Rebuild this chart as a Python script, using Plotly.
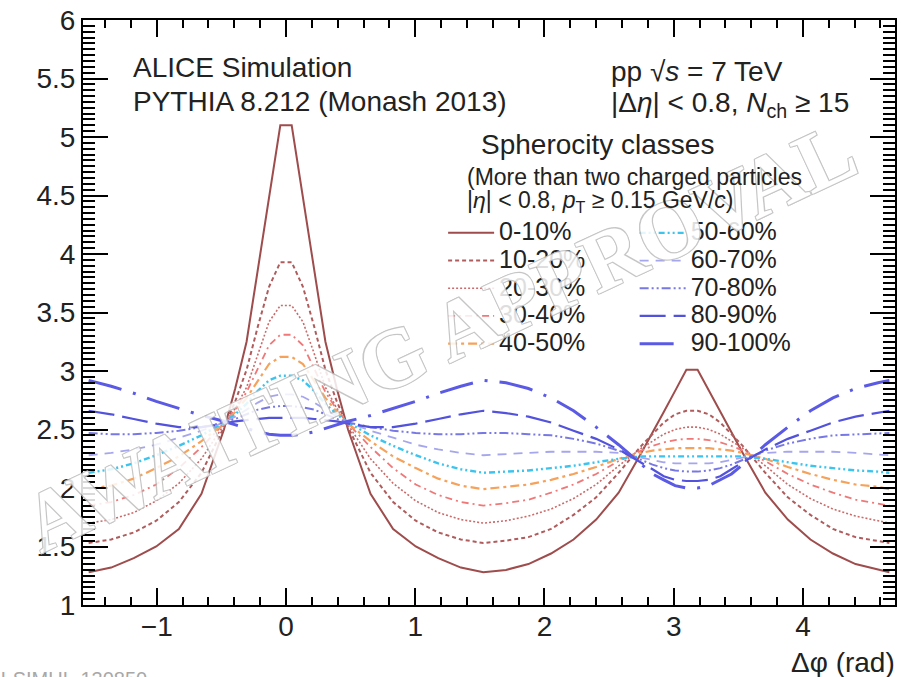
import math
import plotly.graph_objects as go

# ---------------- data ----------------
dphi = [-1.527, -1.353, -1.178, -1.004, -0.829, -0.654, -0.480, -0.393, -0.305, -0.218, -0.131, -0.044,
        0.044, 0.131, 0.218, 0.305, 0.393, 0.480, 0.654, 0.829, 1.004, 1.178, 1.353,
        1.527,
        1.702, 1.876, 2.051, 2.225, 2.400, 2.574, 2.749, 2.836, 2.923, 3.011, 3.098,
        3.185, 3.272, 3.360, 3.447, 3.534, 3.709, 3.883, 4.058, 4.232, 4.407, 4.581,
        4.669]

s0_10 = [1.28, 1.32, 1.40, 1.50, 1.65, 1.95, 2.50, 2.85, 3.25, 3.86, 4.48, 5.10,
         5.10, 4.48, 3.86, 3.25, 2.85, 2.50, 1.95, 1.65, 1.50, 1.40, 1.32,
         1.28,
         1.30, 1.35, 1.44, 1.56, 1.73, 1.96, 2.30, 2.47, 2.65, 2.83, 3.01,
         3.01, 2.83, 2.65, 2.47, 2.30, 1.96, 1.73, 1.56, 1.44, 1.35, 1.30,
         1.28]
s10_20 = [1.53, 1.56, 1.62, 1.72, 1.88, 2.13, 2.52, 2.74, 3.01, 3.38, 3.72, 3.93,
          3.93, 3.72, 3.38, 3.01, 2.74, 2.52, 2.13, 1.88, 1.72, 1.62, 1.56,
          1.53,
          1.55, 1.58, 1.65, 1.77, 1.92, 2.13, 2.36, 2.46, 2.56, 2.63, 2.66,
          2.66, 2.63, 2.56, 2.46, 2.36, 2.13, 1.92, 1.77, 1.65, 1.58, 1.55,
          1.53]
s20_30 = [1.70, 1.73, 1.79, 1.89, 2.04, 2.25, 2.54, 2.68, 2.86, 3.15, 3.42, 3.56,
          3.56, 3.42, 3.15, 2.86, 2.68, 2.54, 2.25, 2.04, 1.89, 1.79, 1.73,
          1.70,
          1.72, 1.76, 1.82, 1.91, 2.03, 2.19, 2.34, 2.40, 2.46, 2.50, 2.52,
          2.52, 2.50, 2.46, 2.40, 2.34, 2.19, 2.03, 1.91, 1.82, 1.76, 1.72,
          1.70]
s30_40 = [1.85, 1.88, 1.94, 2.03, 2.17, 2.35, 2.55, 2.67, 2.82, 3.02, 3.22, 3.31,
          3.31, 3.22, 3.02, 2.82, 2.67, 2.55, 2.35, 2.17, 2.03, 1.94, 1.88,
          1.85,
          1.87, 1.90, 1.96, 2.03, 2.12, 2.23, 2.32, 2.36, 2.39, 2.41, 2.42,
          2.42, 2.41, 2.39, 2.36, 2.32, 2.23, 2.12, 2.03, 1.96, 1.90, 1.87,
          1.85]
s40_50 = [1.99, 2.02, 2.08, 2.17, 2.27, 2.40, 2.55, 2.65, 2.77, 2.92, 3.06, 3.12,
          3.12, 3.06, 2.92, 2.77, 2.65, 2.55, 2.40, 2.27, 2.17, 2.08, 2.02,
          1.99,
          2.01, 2.03, 2.07, 2.12, 2.18, 2.25, 2.30, 2.32, 2.33, 2.34, 2.34,
          2.34, 2.34, 2.33, 2.32, 2.30, 2.25, 2.18, 2.12, 2.07, 2.03, 2.01,
          1.99]
s50_60 = [2.13, 2.16, 2.21, 2.28, 2.36, 2.45, 2.56, 2.63, 2.72, 2.83, 2.92, 2.96,
          2.96, 2.92, 2.83, 2.72, 2.63, 2.56, 2.45, 2.36, 2.28, 2.21, 2.16,
          2.13,
          2.14, 2.15, 2.17, 2.19, 2.22, 2.25, 2.27, 2.27, 2.27, 2.27, 2.27,
          2.27, 2.27, 2.27, 2.27, 2.27, 2.25, 2.22, 2.19, 2.17, 2.15, 2.14,
          2.13]
s60_70 = [2.28, 2.30, 2.33, 2.37, 2.43, 2.49, 2.56, 2.61, 2.67, 2.73, 2.78, 2.80,
          2.80, 2.78, 2.73, 2.67, 2.61, 2.56, 2.49, 2.43, 2.37, 2.33, 2.30,
          2.28,
          2.29, 2.30, 2.31, 2.31, 2.31, 2.30, 2.26, 2.24, 2.22, 2.21, 2.21,
          2.21, 2.21, 2.22, 2.24, 2.26, 2.30, 2.31, 2.31, 2.31, 2.30, 2.29,
          2.28]
s70_80 = [2.47, 2.46, 2.46, 2.47, 2.49, 2.52, 2.56, 2.59, 2.63, 2.67, 2.69, 2.70,
          2.70, 2.69, 2.67, 2.63, 2.59, 2.56, 2.52, 2.49, 2.47, 2.46, 2.46,
          2.47,
          2.47, 2.46, 2.45, 2.42, 2.38, 2.32, 2.24, 2.20, 2.17, 2.15, 2.14,
          2.14, 2.15, 2.17, 2.20, 2.24, 2.32, 2.38, 2.42, 2.45, 2.46, 2.47,
          2.47]
s80_90 = [2.66, 2.63, 2.59, 2.55, 2.52, 2.52, 2.55, 2.57, 2.58, 2.59, 2.60, 2.60,
          2.60, 2.60, 2.59, 2.58, 2.57, 2.55, 2.52, 2.52, 2.55, 2.59, 2.63,
          2.66,
          2.64, 2.61, 2.56, 2.49, 2.42, 2.33, 2.22, 2.16, 2.10, 2.07, 2.06,
          2.06, 2.07, 2.10, 2.16, 2.22, 2.33, 2.42, 2.49, 2.56, 2.61, 2.64,
          2.66]
s90_100 = [2.92, 2.87, 2.81, 2.74, 2.68, 2.62, 2.57, 2.54, 2.51, 2.48, 2.46, 2.45,
           2.45, 2.46, 2.48, 2.51, 2.54, 2.57, 2.62, 2.68, 2.74, 2.81, 2.87,
           2.92,
           2.90, 2.85, 2.77, 2.66, 2.52, 2.37, 2.20, 2.12, 2.07, 2.02, 2.00,
           2.00, 2.02, 2.07, 2.12, 2.20, 2.37, 2.52, 2.66, 2.77, 2.85, 2.90,
           2.92]

class_labels = ["0-10%", "10-20%", "20-30%", "30-40%", "40-50%",
                "50-60%", "60-70%", "70-80%", "80-90%", "90-100%"]
series = [s0_10, s10_20, s20_30, s30_40, s40_50, s50_60, s60_70, s70_80, s80_90, s90_100]

# ---------------- styles ----------------
colors = ["#9e4c4c", "#b05c5c", "#cc6a6a", "#f07878", "#f6a25a",
          "#3cc4ee", "#a6a6ee", "#7878e4", "#5252dc", "#5a5ae4"]
dashes = ["solid", "4px,3px", "2px,2px", "7px,4px,2px,4px", "9px,4px,3px,4px",
          "6px,3px,2px,3px,2px,3px", "9px,7px", "9px,3px,2px,3px,2px,3px",
          "26px,8px", "34px,12px,3px,12px"]
widths = [2, 2, 1.6, 1.8, 2.2, 2.4, 1.8, 2, 2.2, 3]

FONT = "Liberation Sans, Arial, Helvetica, sans-serif"
TXT = "#222222"

fig = go.Figure()
for i, (lab, ys) in enumerate(zip(class_labels, series)):
    fig.add_trace(go.Scatter(
        x=dphi, y=ys, mode="lines",
        name="<span style='font-size:25px'>%s</span>" % lab,
        line=dict(color=colors[i], width=widths[i], dash=dashes[i]),
        legend="legend" if i < 5 else "legend2",
        hoverinfo="skip",
    ))

axis_common = dict(
    showline=True, linewidth=2, linecolor="black", mirror="ticks",
    ticks="inside", tickwidth=2, tickcolor="black",
    showgrid=False, zeroline=False,
    tickfont=dict(family=FONT, size=28, color=TXT),
)
fig.update_xaxes(range=[-math.pi / 2, 3 * math.pi / 2], tick0=0, dtick=1, ticklen=17,
                 ticklabelstandoff=-5,
                 minor=dict(tick0=0, dtick=0.2, ticklen=8, tickwidth=1.5,
                            ticks="inside", tickcolor="black", showgrid=False),
                 **axis_common)
fig.update_yaxes(range=[1, 6], tick0=1, dtick=0.5, ticklen=25,
                 minor=dict(tick0=1, dtick=0.05, ticklen=12, tickwidth=1.5,
                            ticks="inside", tickcolor="black", showgrid=False),
                 **axis_common)

L, R, T, B = 83, 5, 20, 72
W, H = 902, 677
PW, PH = W - L - R, H - T - B


def xp(px):
    return (px - L) / PW


def yp(py):
    return (T + PH - py) / PH


def note(text, px, py, size=28, xanchor="left", yanchor="middle", color=TXT, **kw):
    fig.add_annotation(text=text, x=xp(px), y=yp(py), xref="paper", yref="paper",
                       xanchor=xanchor, yanchor=yanchor, showarrow=False,
                       font=dict(family=FONT, size=size, color=color), **kw)


# watermark (drawn first so the labels sit on top of it)
fig.add_annotation(text="<b>AWAITING APPROVAL</b>", x=xp(440), y=yp(336), xref="paper", yref="paper",
                   showarrow=False, textangle=-25, opacity=0.85,
                   font=dict(family="Liberation Serif, Times New Roman, serif", size=84,
                             color="white",
                             shadow="-1px -1px 0 #bdbdbd, 1px -1px 0 #bdbdbd, -1px 1px 0 #bdbdbd, 1px 1px 0 #bdbdbd"))

note("ALICE Simulation", 131, 67)
note("PYTHIA 8.212 (Monash 2013)", 131, 102)
note("pp √<i>s</i> = 7 TeV", 610, 71)
note("|Δ<i>η</i>| < 0.8, <i>N</i><sub>ch</sub> ≥ 15", 610, 104)
note("Spherocity classes", 480, 144)
note("(More than two charged particles", 466, 177, size=23)
note("|<i>η</i>| < 0.8, <i>p</i><sub>T</sub> ≥ 0.15 GeV/<i>c</i>)", 466, 201, size=23)
note("Δφ (rad)", 899, 662, xanchor="right")
note("ALI-SIMUL-130850", -26, 666, size=20, yanchor="top", color="#a8a8a8")

legend_common = dict(bgcolor="rgba(0,0,0,0)", borderwidth=0, itemwidth=46,
                     font=dict(family=FONT, size=19, color=TXT),
                     xanchor="left", yanchor="top", tracegroupgap=0,
                     itemclick=False, itemdoubleclick=False)
fig.update_layout(
    width=W, height=H, margin=dict(l=L, r=R, t=T, b=B),
    plot_bgcolor="white", paper_bgcolor="white",
    font=dict(family=FONT, color=TXT),
    showlegend=True,
    legend=dict(x=xp(444), y=yp(214), **legend_common),
    legend2=dict(x=xp(636), y=yp(214), **legend_common),
)

fig.write_html("out.html")
